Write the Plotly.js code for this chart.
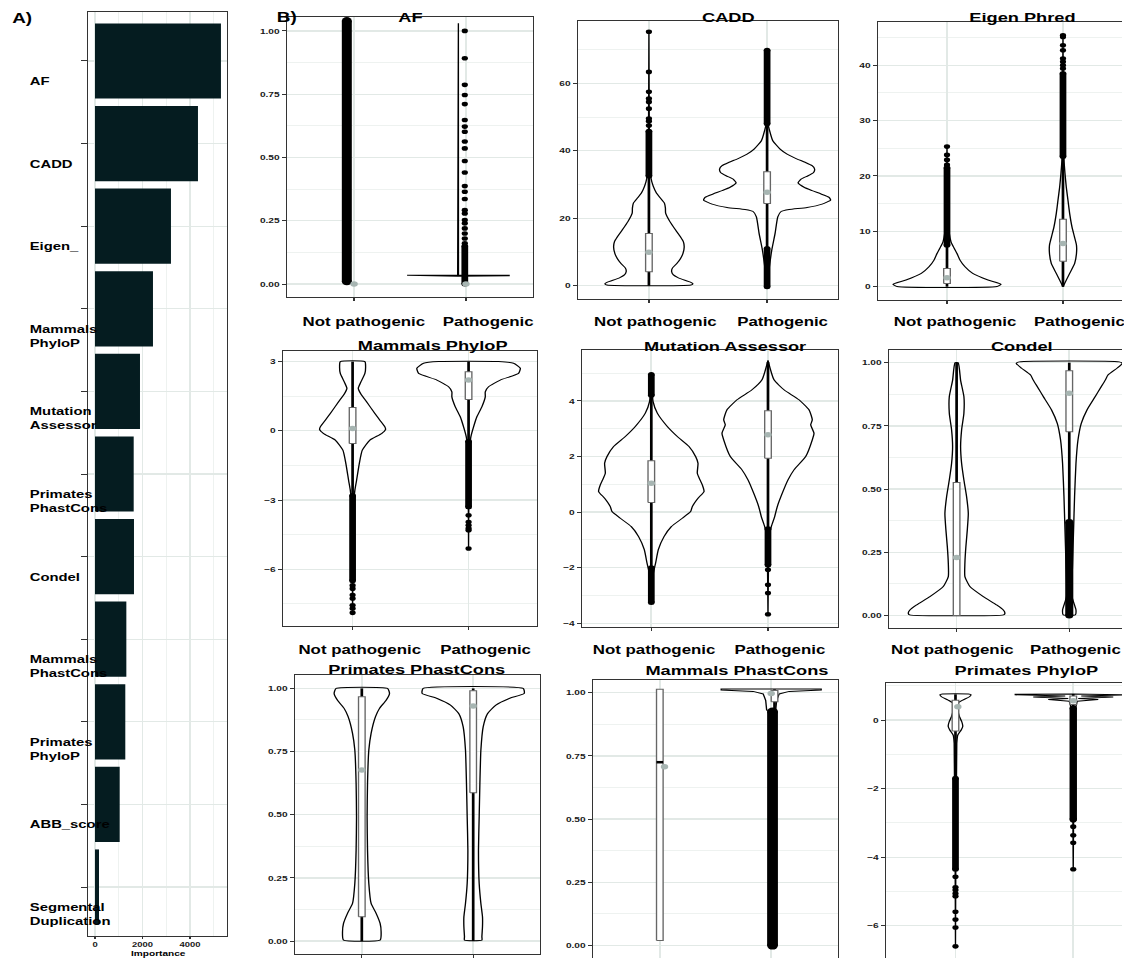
<!DOCTYPE html>
<html><head><meta charset="utf-8">
<script src="https://cdn.plot.ly/plotly-3.0.1.min.js"></script>
<style>
html,body{margin:0;padding:0;background:#fff;overflow:hidden;width:1134px;height:958px;}
#chart{width:840px;height:958px;transform:scaleX(1.35);transform-origin:0 0;}
</style></head><body><div id="chart"></div>
<script>
// ================= DATA =================
// Panel A: feature importance
const featureNames = ["AF","CADD","Eigen_","Mammals\nPhyloP","Mutation\nAssessor","Primates\nPhastCons","Condel","Mammals\nPhastCons","Primates\nPhyloP","ABB_score","Segmental\nDuplication"];
const importance = [5305, 4337, 3200, 2442, 1895, 1630, 1642, 1320, 1276, 1040, 168];
const importanceTicks = [0, 2000, 4000];

// Panel B
const groupNames = ["Not pathogenic", "Pathogenic"];
const panelTitles = ["AF","CADD","Eigen Phred","Mammals PhyloP","Mutation Assessor","Condel","Primates PhastCons","Mammals PhastCons","Primates PhyloP"];
// violin profiles: value, half-width (px); box: [q1, median, q3, whiskerLow, whiskerHigh, mean]
// AF
const af_p_val = [0.031, 0.0325, 0.0345, 0.036, 1.03];
const af_p_hw = [0, 51, 51, 0.4, 0.3];
const af_np_box = [null, null, null, null, null, 0.0];
const af_p_box = [null, null, null, null, null, 0.0];
const af_np_dense = [[0.01, 1.04]];
const af_p_dense = [[0.0, 0.15]];
const af_p_pts = [1.0, 0.892, 0.787, 0.747, 0.711, 0.648, 0.622, 0.602, 0.563, 0.536, 0.486, 0.441, 0.387, 0.365, 0.336, 0.292, 0.279, 0.253, 0.24, 0.22, 0.2, 0.18, 0.161];
// CADD
const cadd_np_val = [0.2, 0.6, 1.0, 1.6, 2.4, 3.2, 4.2, 5.2, 6.5, 8, 9.5, 11.5, 13, 14.5, 16.5, 19, 21.5, 23, 24.5, 26, 27.5, 29.5, 32, 35, 40, 75.3];
const cadd_np_hw = [42, 44, 42, 36, 29, 24.5, 22.7, 23.5, 27.7, 31.5, 34, 35.3, 34.5, 31.5, 26.7, 21, 16.7, 16.5, 15.5, 11.5, 7.5, 4.3, 2, 1, 0.5, 0];
const cadd_np_box = [4.1, null, 15.5, 0, 32.3, 9.9];
const cadd_np_dense = [[32.5, 45.8]];
const cadd_np_pts = [75.3, 63.4, 57.5, 55.5, 54.5, 52.5, 49.6, 48.8, 47.5];
const cadd_p_val = [0, 5.6, 10.6, 15.5, 20.4, 22.0, 22.6, 23.2, 24.2, 25.4, 26.2, 27.2, 28.2, 29.2, 30.5, 31.6, 32.6, 33.6, 34.6, 35.6, 36.6, 37.7, 39, 40.5, 43, 46, 48, 51, 69.8];
const cadd_p_hw = [0, 2.3, 4.7, 8, 10.7, 14, 22, 40, 55, 63.5, 62, 54, 45, 37, 31, 34, 41, 46.5, 47.5, 45, 38, 29, 20, 13, 5.7, 2.5, 1, 0.5, 0];
const cadd_p_box = [24.4, null, 33.8, 10.5, 48, 27.7];
const cadd_p_dense = [[48, 69.8], [-0.3, 11]];
// Eigen Phred
const eig_np_val = [0.05, 0.45, 1.2, 2.4, 3.6, 4.8, 6.0, 6.9, 8.1, 9.6, 12, 25.3];
const eig_np_hw = [50, 54, 41, 25.7, 18, 13, 10, 7.3, 4, 2.3, 1, 0];
const eig_np_box = [0.6, null, 3.3, 0, 7.5, 1.6];
const eig_np_dense = [[7.5, 21.5]];
const eig_np_pts = [25.3, 23.8, 22.9, 22.0];
const eig_p_val = [0, 2.4, 4.2, 6.0, 7.5, 9.0, 10.8, 13.2, 15.6, 18, 20.5, 22.9, 30, 45.4];
const eig_p_hw = [0, 6.7, 11.7, 13.5, 13.5, 11.5, 9, 6.7, 5, 3.3, 2, 1, 0.5, 0];
const eig_p_box = [4.6, null, 12.2, 0, 23.5, 7.8];
const eig_p_dense = [[23.5, 38.5]];
const eig_p_pts = [45.4, 45.1, 43.6, 42.7, 41.2, 40.6, 40, 39.4];
// Mammals PhyloP
const mpy_np_val = [-7.9, -3.0, -2.57, -2.14, -1.42, -0.84, -0.4, -0.12, 0.06, 0.17, 0.46, 0.75, 1.26, 1.62, 1.84, 2.12, 2.49, 2.77, 3.0];
const mpy_np_hw = [0, 1.3, 2.3, 4, 6.7, 9.7, 17.3, 29, 33, 32.3, 27.3, 22.3, 14, 8, 5.7, 8.3, 12.3, 13, 12.3];
const mpy_np_box = [-0.55, null, 1.01, -2.8, 3.0, 0.1];
const mpy_np_dense = [[-6.5, -2.8]];
const mpy_np_pts = [-6.7, -6.84, -7.12, -7.27, -7.56, -7.7, -7.89];
const mpy_p_val = [-5.1, -0.69, -0.26, 0.17, 0.61, 1.04, 1.47, 1.69, 1.91, 2.2, 2.49, 2.72, 2.93, 3.0];
const mpy_p_hw = [0, 1, 2.3, 5, 8.3, 13.3, 16.7, 16.7, 20, 31.7, 50, 51.7, 45, 30];
const mpy_p_box = [1.36, null, 2.56, -0.45, 3.0, 2.2];
const mpy_p_dense = [[-3.3, -0.45]];
const mpy_p_pts = [-3.66, -3.95, -4.09, -4.23, -4.31, -5.1];
// Mutation Assessor
const ma_np_val = [-3.27, -2.2, -1.83, -1.35, -0.88, -0.52, -0.22, 0.02, 0.2, 0.5, 0.74, 0.98, 1.16, 1.40, 1.76, 2.0, 2.36, 2.72, 3.08, 3.56, 3.98, 4.5, 5.0];
const ma_np_hw = [0, 2, 4.3, 7, 12.7, 20, 31, 39.3, 41, 46.7, 52.7, 51, 48.7, 46, 46.7, 44.3, 37.7, 26, 16, 6, 1.7, 0.8, 0];
const ma_np_box = [0.35, null, 1.85, -2.0, 4.2, 1.04];
const ma_np_dense = [[4.2, 4.95], [-3.25, -2.0]];
const ma_p_val = [-3.7, -0.88, -0.52, -0.16, 0.2, 0.68, 1.16, 1.52, 2.0, 2.6, 2.84, 3.14, 3.32, 3.68, 4.04, 4.4, 4.76, 5.46];
const ma_p_hw = [0, 1.3, 3.3, 6.7, 9.3, 14.3, 20, 26, 37.7, 44.3, 46, 42.7, 44.3, 41, 31, 16, 6, 0];
const ma_p_box = [1.94, null, 3.65, -0.6, 5.4, 2.78];
const ma_p_dense = [[-1.9, -0.6]];
const ma_p_pts = [-2.07, -2.61, -2.91, -3.67];
// Condel
const con_np_val = [0.003, 0.009, 0.022, 0.042, 0.075, 0.115, 0.154, 0.207, 0.273, 0.339, 0.404, 0.47, 0.536, 0.602, 0.668, 0.734, 0.80, 0.866, 0.93, 1.0];
const con_np_hw = [47, 48.3, 46.7, 40, 26.7, 13.3, 8.3, 8.3, 9.3, 10.7, 11.7, 10, 7.3, 5, 4, 5, 7.3, 7.3, 4, 1.5];
const con_np_box = [0.0, null, 0.526, 0, 1.0, 0.23];
const con_p_val = [0.003, 0.022, 0.075, 0.207, 0.339, 0.47, 0.602, 0.694, 0.76, 0.813, 0.866, 0.899, 0.931, 0.951, 0.978, 0.997, 1.003];
const con_p_hw = [6, 6.7, 2.7, 3.3, 4.3, 5.3, 6.7, 8.7, 12, 17.7, 26, 31, 36, 38.7, 47.7, 53, 50];
const con_p_box = [0.727, null, 0.968, 0.37, 1.0, 0.879];
const con_p_dense = [[0.0, 0.37]];
// Primates PhastCons
const pps_np_val = [0.004, 0.037, 0.07, 0.11, 0.149, 0.228, 0.36, 0.492, 0.624, 0.756, 0.822, 0.888, 0.921, 0.953, 0.98, 1.0];
const pps_np_hw = [18.3, 19.3, 18.3, 14.3, 9.3, 7, 5.7, 5.3, 5.7, 7, 9.3, 13.7, 17.7, 24.3, 27.7, 25.7];
const pps_np_box = [0.096, null, 0.967, 0, 1.0, 0.677];
const pps_p_val = [0.004, 0.017, 0.057, 0.096, 0.149, 0.228, 0.36, 0.492, 0.624, 0.756, 0.848, 0.9, 0.934, 0.96, 0.98, 1.0];
const pps_p_hw = [8.7, 8.7, 9.3, 9.3, 7.7, 6, 5.3, 6, 6.7, 7.7, 10, 14.3, 22.7, 36, 51, 50];
const pps_p_box = [0.587, null, 0.991, 0, 1.0, 0.93];
// Mammals PhastCons
const mps_p_val = [0.93, 0.97, 0.995, 1.005, 1.010, 1.014];
const mps_p_hw = [4.5, 5.5, 8, 18, 50, 50];
const mps_np_box = [0.02, 0.725, 1.013, null, null, 0.707];
const mps_p_box = [0.964, null, 1.008, 0.93, 1.013, 0.997];
const mps_p_dense = [[0.0, 0.925]];
// Primates PhyloP
const ppy_np_val = [-6.6, -0.68, -0.44, -0.29, -0.18, -0.05, 0.1, 0.29, 0.49, 0.58, 0.68, 0.74, 0.76];
const ppy_np_hw = [0, 1.3, 2.3, 5.7, 7.3, 6.3, 4, 2.3, 2.3, 7.3, 14, 15.5, 13];
const ppy_np_box = [-0.32, null, 0.58, -1.7, 0.75, 0.39];
const ppy_np_dense = [[-4.35, -1.7]];
const ppy_np_pts = [-4.57, -4.88, -4.96, -5.06, -5.14, -5.59, -5.82, -6.05, -6.6];
const ppy_p_val = [-4.35, 0.2, 0.45, 0.55, 0.6, 0.63, 0.67, 0.7, 0.735, 0.75, 0.76];
const ppy_p_hw = [0, 1, 3, 4, 25, 5, 40, 8, 58, 58, 0];
const ppy_p_box = [0.45, null, 0.7, 0.3, 0.76, 0.56];
const ppy_p_dense = [[-2.9, 0.35]];
const ppy_p_pts = [-2.92, -3.11, -3.36, -3.58, -4.35];

// ================= LAYOUT HELPERS =================
const S = 1.35, WF = 1134, HF = 958, W0 = WF / S;
const FONT = 'Liberation Sans, Arial, Helvetica, sans-serif';
const GRID = '#e2e9e6', MINOR = '#eef2f0', AXC = '#333';
const xd = (a, b) => [a / WF, b / WF];
const yd = (a, b) => [1 - b / HF, 1 - a / HF];
const px2x = p => p / WF, px2y = p => 1 - p / HF;

// panel configs (positions & styles only; data referenced by name)
const panels = [
  {px:[287,533,17,297], xr:[0.4,2.6], yr:[-0.051,1.055], dt:0.25, fmt:'.2f', right:false, tpos:[410,18], lab:[[364,322],[488,322]],
   g:[{box:af_np_box, dense:af_np_dense, dw:7.4, oOff:-0.065},
      {val:af_p_val, hw:af_p_hw, lin:true, vOff:-0.07, box:af_p_box, dense:af_p_dense, pts:af_p_pts, oOff:-0.01}]},
  {px:[578,838,21,299], xr:[0.4,2.6], yr:[-3.95,78.5], dt:20, right:false, tpos:[728,18], lab:[[656,322],[782,322]],
   g:[{val:cadd_np_val, hw:cadd_np_hw, box:cadd_np_box, dense:cadd_np_dense, pts:cadd_np_pts},
      {val:cadd_p_val, hw:cadd_p_hw, box:cadd_p_box, dense:cadd_p_dense}]},
  {px:[878,1122,22,300], xr:[0.405,2.509], yr:[-2.4,47.8], dt:10, right:true, tpos:[1023,18], lab:[[955,322],[1032,322]],
   g:[{val:eig_np_val, hw:eig_np_hw, box:eig_np_box, dense:eig_np_dense, pts:eig_np_pts},
      {val:eig_p_val, hw:eig_p_hw, box:eig_p_box, dense:eig_p_dense, pts:eig_p_pts}]},
  {px:[283,537,351,626], xr:[0.4,2.59], yr:[-8.46,3.46], dt:3, right:false, tpos:[433,345], lab:[[360,650],[485,650]],
   g:[{val:mpy_np_val, hw:mpy_np_hw, box:mpy_np_box, dense:mpy_np_dense, pts:mpy_np_pts},
      {val:mpy_p_val, hw:mpy_p_hw, box:mpy_p_box, dense:mpy_p_dense, pts:mpy_p_pts}]},
  {px:[582,838,350,627], xr:[0.406,2.6], yr:[-4.13,5.83], dt:2, right:false, tpos:[725,346], lab:[[654.5,650],[779,650]],
   g:[{val:ma_np_val, hw:ma_np_hw, box:ma_np_box, dense:ma_np_dense},
      {val:ma_p_val, hw:ma_p_hw, box:ma_p_box, dense:ma_p_dense, pts:ma_p_pts}]},
  {px:[889,1122,350,628], xr:[0.4,2.468], yr:[-0.049,1.05], dt:0.25, fmt:'.2f', right:true, tpos:[1022,346], lab:[[952,650],[1028,650]],
   g:[{val:con_np_val, hw:con_np_hw, box:con_np_box},
      {val:con_p_val, hw:con_p_hw, box:con_p_box, dense:con_p_dense, dw:6}]},
  {px:[295,540,675,954], xr:[0.4,2.6], yr:[-0.051,1.053], dt:0.25, fmt:'.2f', right:false, tpos:[417,669], lab:null,
   g:[{val:pps_np_val, hw:pps_np_hw, box:pps_np_box},
      {val:pps_p_val, hw:pps_p_hw, box:pps_p_box}]},
  {px:[593,838,680,958], xr:[0.4,2.6], yr:[-0.049,1.05], dt:0.25, fmt:'.2f', right:false, tpos:[737,670], lab:null,
   g:[{box:mps_np_box, mOff:0.042},
      {val:mps_p_val, hw:mps_p_hw, lin:true, box:mps_p_box, bOff:0.03, dense:mps_p_dense, dw:8, oOff:0.012}]},
  {px:[886,1122,683,958], xr:[0.41,2.414], yr:[-6.94,1.08], dt:2, right:true, tpos:[1027,670], lab:null,
   g:[{val:ppy_np_val, hw:ppy_np_hw, box:ppy_np_box, dense:ppy_np_dense, pts:ppy_np_pts, mOff:0.02},
      {val:ppy_p_val, hw:ppy_p_hw, lin:true, box:ppy_p_box, dense:ppy_p_dense, pts:ppy_p_pts, dw:5.5}]}
];

const traces = [];
const layout = {
  width: W0, height: HF, margin:{l:0,r:0,t:0,b:0},
  paper_bgcolor:'#fff', plot_bgcolor:'#fff', showlegend:false, hovermode:false,
  font:{family:FONT, color:'#000'}, annotations:[], shapes:[]
};

// ---------- Panel A ----------
const catNames = featureNames.map(n => n.replace('\n', ' '));
traces.push({type:'bar', orientation:'h', x:importance, y:catNames, xaxis:'x', yaxis:'y',
  width:0.91, marker:{color:'#051c20', line:{width:0}}, hoverinfo:'skip'});
layout.xaxis = {domain:xd(88,227), range:[-295,5560], tickvals:importanceTicks, ticks:'outside', ticklen:2, tickcolor:AXC,
  tickfont:{size:7, weight:'bold', color:'#1a1a1a'}, showgrid:true, gridcolor:GRID, gridwidth:1.3, zeroline:false,
  minor:{dtick:1000, tick0:0, showgrid:true, gridcolor:MINOR, gridwidth:1},
  showline:true, mirror:true, linecolor:AXC, linewidth:1, anchor:'y'};
layout.yaxis = {domain:yd(12,936), type:'category', categoryorder:'array', categoryarray:catNames.slice().reverse(),
  range:[-0.593,10.593], showticklabels:false, ticks:'outside', ticklen:4, tickcolor:AXC,
  showgrid:true, gridcolor:GRID, gridwidth:1.3, zeroline:false,
  showline:true, mirror:true, linecolor:AXC, linewidth:1, anchor:'x'};
featureNames.forEach((n, i) => {
  n.split('\n').forEach((line, j) => {
    layout.annotations.push({xref:'paper', yref:'y', x:px2x(27), y:catNames[i], xanchor:'left', yanchor:'middle',
      yshift:-(20 + 14*j), text:'<b>'+line+'</b>', showarrow:false, font:{size:11, color:'#000'}});
  });
});
layout.annotations.push({xref:'paper', yref:'paper', x:px2x(157.5), y:px2y(953.2), text:'<b>Importance</b>', showarrow:false,
  xanchor:'center', yanchor:'middle', font:{size:7.5}});
layout.annotations.push({xref:'paper', yref:'paper', x:px2x(22), y:px2y(18), text:'<b>A)</b>', showarrow:false,
  xanchor:'center', yanchor:'middle', font:{size:14}});
layout.annotations.push({xref:'paper', yref:'paper', x:px2x(287), y:px2y(17), text:'<b>B)</b>', showarrow:false,
  xanchor:'center', yanchor:'middle', font:{size:14}});

// ---------- Panel B ----------
function addGroup(ax, p, gi, g) {
  const xa = 'x'+ax, ya = 'y'+ax;
  const unitPx = (p.px[1]-p.px[0]) / (p.xr[1]-p.xr[0]);
  const base = gi + 1;
  const common = {type:'scatter', xaxis:xa, yaxis:ya, hoverinfo:'skip', showlegend:false};
  if (g.val && g.val.length) {
    const c = base + (g.vOff || 0);
    const xl = g.val.map((v,i) => c - g.hw[i]/unitPx);
    const xrr = g.val.map((v,i) => c + g.hw[i]/unitPx).reverse();
    const xs = xl.concat(xrr), ys = g.val.concat(g.val.slice().reverse());
    xs.push(xs[0]); ys.push(ys[0]);
    traces.push(Object.assign({}, common, {mode:'lines', x:xs, y:ys,
      line:{color:'#000', width:1, shape:g.lin?'linear':'spline', smoothing:0.5}}));
  }
  const b = g.box;
  const bc = base + (g.bOff || 0);
  const bw = 3.3 / unitPx;
  if (b && b[3] != null && b[4] != null) {
    traces.push(Object.assign({}, common, {mode:'lines', x:[bc,bc], y:[b[3], b[4]], line:{color:'#000', width:2}}));
  }
  if (b && b[0] != null) {
    traces.push(Object.assign({}, common, {mode:'lines', x:[bc-bw,bc+bw,bc+bw,bc-bw,bc-bw], y:[b[0],b[0],b[2],b[2],b[0]],
      fill:'toself', fillcolor:'#fff', line:{color:'#666', width:1}}));
  }
  if (b && b[1] != null) {
    traces.push(Object.assign({}, common, {mode:'lines', x:[bc-bw,bc+bw], y:[b[1],b[1]], line:{color:'#000', width:2.5}}));
  }
  const oc = base + (g.oOff || 0);
  const dw = g.dw || 5;
  (g.dense || []).forEach(r => {
    traces.push(Object.assign({}, common, {mode:'lines+markers', x:[oc,oc], y:r,
      line:{color:'#000', width:dw}, marker:{color:'#000', size:dw}}));
  });
  if (g.pts && g.pts.length) {
    traces.push(Object.assign({}, common, {mode:'markers', x:g.pts.map(() => oc), y:g.pts,
      marker:{color:'#000', size:4.6}}));
  }
  if (b && b[5] != null) {
    traces.push(Object.assign({}, common, {mode:'markers', x:[base + (g.mOff || 0)], y:[b[5]],
      marker:{color:'#a7b5b2', size:5.5}}));
  }
}

panels.forEach((p, k) => {
  const ax = k + 2;
  layout['xaxis'+ax] = {domain:xd(p.px[0], p.px[1]), range:p.xr, tickvals:[1,2], showticklabels:false,
    ticks:'outside', ticklen:3, tickcolor:AXC, showgrid:true, gridcolor:GRID, gridwidth:1.3, zeroline:false,
    showline:true, mirror:true, linecolor:AXC, linewidth:1, anchor:'y'+ax};
  layout['yaxis'+ax] = {domain:yd(p.px[2], p.px[3]), range:p.yr, tickmode:'linear', tick0:0, dtick:p.dt,
    tickformat:p.fmt || '', ticks:'outside', ticklen:3, tickcolor:AXC,
    tickfont:{size:7.5, weight:'bold', color:'#1a1a1a'}, showgrid:true, gridcolor:GRID, gridwidth:1.3, zeroline:false,
    minor:{dtick:p.dt/2, tick0:0, showgrid:true, gridcolor:MINOR, gridwidth:1},
    showline:true, mirror:!p.right, linecolor:AXC, linewidth:1, anchor:'x'+ax};
  p.g.forEach((g, gi) => addGroup(ax, p, gi, g));
  layout.annotations.push({xref:'paper', yref:'paper', x:px2x(p.tpos[0]), y:px2y(p.tpos[1]), text:'<b>'+panelTitles[k]+'</b>',
    showarrow:false, xanchor:'center', yanchor:'middle', font:{size:13.5, color:'#000'}});
  if (p.lab) {
    p.lab.forEach((l, gi) => {
      const a = {xref:'paper', yref:'paper', x:px2x(l[0]), y:px2y(l[1]), text:'<b>'+groupNames[gi]+'</b>',
        showarrow:false, xanchor:'center', yanchor:'middle', font:{size:12.5, color:'#000'}};
      if (p.right && gi === 1) {
        a.xanchor = 'left'; a.align = 'left'; a.width = (1122 - l[0]) / S;
      }
      layout.annotations.push(a);
    });
  }
});

Plotly.newPlot('chart', traces, layout, {staticPlot:true, displayModeBar:false});
</script></body></html>
